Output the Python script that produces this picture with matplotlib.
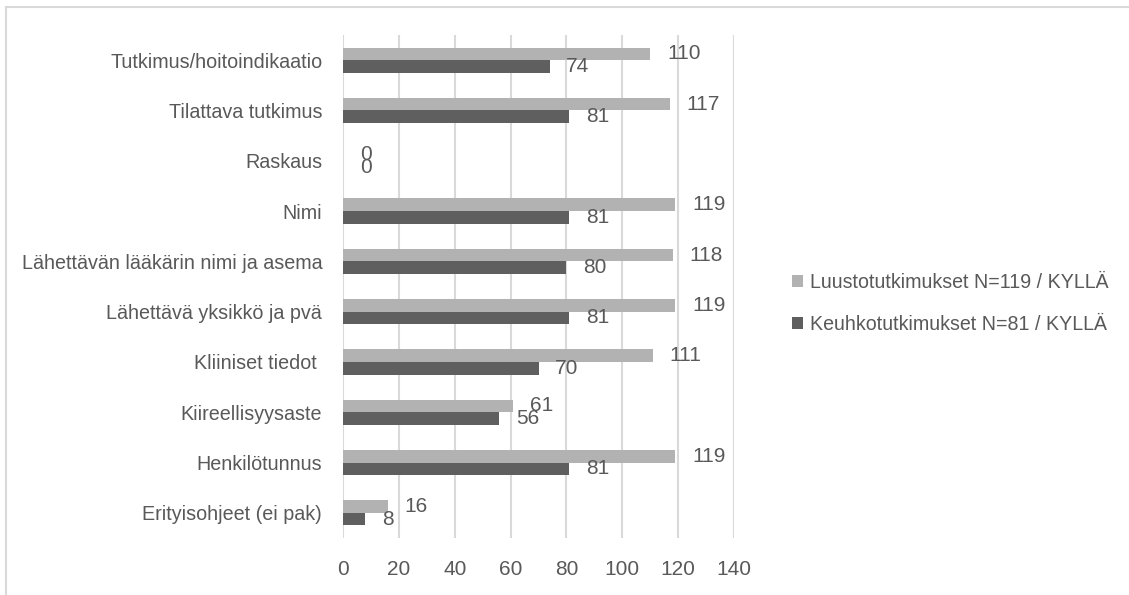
#!/usr/bin/env python3

import numpy as np
import matplotlib
matplotlib.use("Agg")
import matplotlib.pyplot as plt
from matplotlib.lines import Line2D

# categories listed from top to bottom
categories = [
  "Tutkimus/hoitoindikaatio",
  "Tilattava tutkimus",
  "Raskaus",
  "Nimi",
  "Lähettävän lääkärin nimi ja asema",
  "Lähettävä yksikkö ja pvä",
  "Kliiniset tiedot ",
  "Kiireellisyysaste",
  "Henkilötunnus",
  "Erityisohjeet (ei pak)",
]
luusto = [110, 117, 0, 119, 118, 119, 111, 61, 119, 16]
keuhko = [74, 81, 0, 81, 80, 81, 70, 56, 81, 8]
series_names = ["Luustotutkimukset N=119 / KYLLÄ", "Keuhkotutkimukset N=81 / KYLLÄ"]
xticks = [0, 20, 40, 60, 80, 100, 120, 140]

light = "#b2b2b2"
dark = "#5f5f5f"
txt = "#595959"
grid = "#d9d9d9"

plt.rcParams["font.family"] = ["Liberation Sans", "DejaVu Sans"]

fig = plt.figure(figsize=(11.29, 5.95), dpi=100)
ax = fig.add_axes([343/1129, 1-538/595, (734-343)/1129, (538-35)/595])

n = len(categories)
y = np.arange(n)[::-1]
h = 0.25

b1 = ax.barh(y + h/2, luusto, height=h, color=light, label=series_names[0], zorder=3)
b2 = ax.barh(y - h/2, keuhko, height=h, color=dark, label=series_names[1], zorder=3)

for bars in (b1, b2):
  ax.bar_label(bars, padding=12, fontsize=15, color=txt)

ax.set_xlim(0, 140)
ax.set_ylim(-0.5, n - 0.5)
ax.set_xticks(xticks)
ax.set_xticklabels([str(t) for t in xticks])
ax.set_yticks(y)
ax.set_yticklabels(categories)
ax.tick_params(axis="x", length=0, pad=16, labelsize=15, labelcolor=txt)
ax.tick_params(axis="y", length=0, pad=15, labelsize=14.2, labelcolor=txt)
ax.xaxis.grid(True, color=grid, linewidth=1.5, zorder=0)
for s in ax.spines.values():
  s.set_visible(False)

leg = fig.legend(loc="center left", bbox_to_anchor=(792/1129, 1-303.5/595),
                 frameon=False, fontsize=14.1, labelcolor=txt,
                 handlelength=0.55, handleheight=0.55, handletextpad=0.35,
                 labelspacing=1.2, borderpad=0, borderaxespad=0)

# outer frame: top and left edges only
fig.add_artist(Line2D([5.5/1129, 1], [1-6.5/595, 1-6.5/595], color=grid, linewidth=1.5))
fig.add_artist(Line2D([5.5/1129, 5.5/1129], [0, 1-6.5/595], color=grid, linewidth=1.5))

fig.savefig("out.png", dpi=100)
